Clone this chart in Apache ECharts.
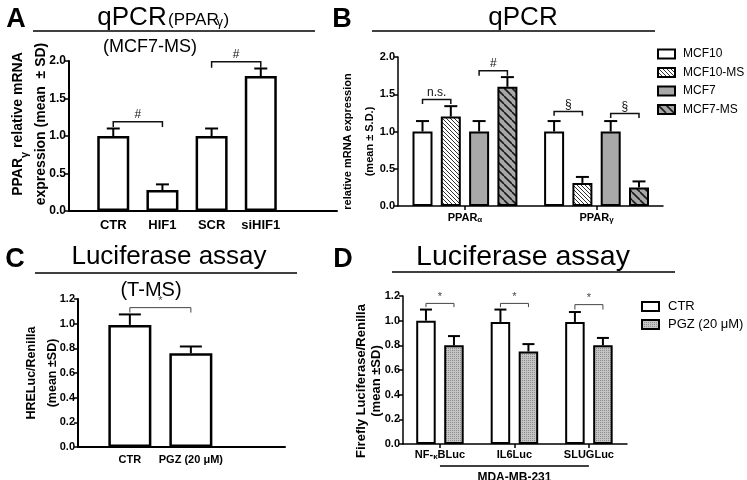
<!DOCTYPE html>
<html><head><meta charset="utf-8">
<script src="https://cdn.jsdelivr.net/npm/echarts@6/dist/echarts.min.js"></script>
<style>html,body{margin:0;padding:0;background:#fff}#c{width:747px;height:480px}</style>
</head><body><div id="c"></div>
<script>
// ---------------- data ----------------
// Panel A  qPCR (PPARγ), MCF7-MS
const catsA = ['CTR', 'HIF1', 'SCR', 'siHIF1'];
const meanA = [1.00, 0.28, 1.00, 1.80];
const sdA   = [0.10, 0.075, 0.10, 0.10];
const sigA  = [[0, 1, 1.19, 1.12, '#'], [2, 3, 1.99, 1.91, '#']]; // from, to, top, tick end, label
const ticksA = [0, 0.5, 1.0, 1.5, 2.0];

// Panel B  qPCR
const groupsB = ['PPARα', 'PPARγ'];
const seriesB = ['MCF10', 'MCF10-MS', 'MCF7', 'MCF7-MS'];
const meanB = [[1.00, 1.00], [1.20, 0.31], [1.00, 1.00], [1.60, 0.25]]; // [series][group]
const sdB   = [[0.14, 0.14], [0.14, 0.08], [0.14, 0.14], [0.13, 0.08]];
const sigB  = [[0, 0, 1, 1.43, 1.37, 'n.s.'], [0, 2, 3, 1.815, 1.75, '#'],
               [1, 0, 1, 1.27, 1.21, '§'], [1, 2, 3, 1.24, 1.18, '§']]; // group, s1, s2, top, tick end, label
const ticksB = [0, 0.5, 1.0, 1.5, 2.0];

// Panel C  Luciferase assay, T-MS
const catsC = ['CTR', 'PGZ (20 μM)'];
const meanC = [0.99, 0.76];
const sdC   = [0.085, 0.055];
const sigC  = [[0, 1, 1.13, 1.09, '*']];
const ticksC = [0, 0.2, 0.4, 0.6, 0.8, 1.0, 1.2];

// Panel D  Luciferase assay, MDA-MB-231
const groupsD = ['NF-κBLuc', 'IL6Luc', 'SLUGLuc'];
const seriesD = ['CTR', 'PGZ (20 μM)'];
const meanD = [[1.00, 0.99, 0.99], [0.80, 0.75, 0.80]];
const sdD   = [[0.09, 0.10, 0.08], [0.075, 0.06, 0.06]];
const sigD  = [[0, 1.14, 1.11, '*'], [1, 1.14, 1.11, '*'], [2, 1.13, 1.09, '*']]; // group, top, tick end, label
const groupLabelD = 'MDA-MB-231';
const ticksD = [0, 0.2, 0.4, 0.6, 0.8, 1.0, 1.2];

// ---------------- layout / style ----------------
const FONT = '"Liberation Sans", Arial, Helvetica, sans-serif';
const GB = 4.65;  // group spacing (bar slots) panel B
const GD = 2.66;  // group spacing (bar slots) panel D

function hatch(size, bg, fg, lw) {
  const c = document.createElement('canvas'); c.width = c.height = size;
  const g = c.getContext('2d'); g.fillStyle = bg; g.fillRect(0, 0, size, size);
  g.strokeStyle = fg; g.lineWidth = lw;
  for (let k = -1; k <= 1; k++) { g.beginPath(); g.moveTo(k * size, 0); g.lineTo(k * size + size, size); g.stroke(); }
  return { image: c, repeat: 'repeat' };
}
function stipple() {
  const c = document.createElement('canvas'); c.width = c.height = 2;
  const g = c.getContext('2d'); g.fillStyle = '#c4c4c4'; g.fillRect(0, 0, 2, 2);
  g.fillStyle = '#8e8e8e'; g.fillRect(0, 0, 1, 1);
  return { image: c, repeat: 'repeat' };
}
const fillsB = ['#ffffff', hatch(4, '#ffffff', '#333333', 1), '#a8a8a8', hatch(8, '#a8a8a8', '#1a1a1a', 1.6)];
const fillsD = ['#ffffff', stipple()];

function rich(str) {
  return str.split('\n').map(l => '{b|' + l.replace(/([αγκ])/g, '}{s|$1}{b|') + '}').join('\n');
}
function richStyles(size, sub, lh, bold) {
  const w = bold ? 'bold' : 'normal';
  return {
    b: { fontSize: size, fontWeight: w, color: '#000', fontFamily: FONT, lineHeight: lh },
    s: { fontSize: sub, fontWeight: w, color: '#000', fontFamily: FONT, lineHeight: Math.round(lh * 0.7), verticalAlign: 'bottom' }
  };
}

function xAxisDef(gi, min, max, centers, labels, o) {
  return {
    type: 'value', gridIndex: gi, min: min, max: max,
    axisLine: { show: true, onZero: false, lineStyle: { color: '#000', width: o.lw } },
    axisTick: { show: !!o.ticks, customValues: centers, length: 4, lineStyle: { color: '#000', width: 1.5 } },
    axisLabel: {
      show: true, customValues: centers, margin: o.margin,
      formatter: v => { const i = centers.findIndex(c => Math.abs(c - v) < 1e-6); return i < 0 ? '' : rich(labels[i]); },
      rich: richStyles(o.fs, o.fs - 3, o.fs + 2, true)
    },
    splitLine: { show: false }
  };
}
function yAxisDef(gi, ticks, o) {
  return {
    type: 'value', gridIndex: gi, min: ticks[0], max: ticks[ticks.length - 1], interval: ticks[1] - ticks[0],
    axisLine: { show: true, onZero: false, lineStyle: { color: '#000', width: o.lw } },
    axisTick: { show: true, length: 4, inside: false, lineStyle: { color: '#000', width: 1.5 } },
    axisLabel: { show: true, margin: 3, fontSize: o.fs, fontWeight: 'bold', color: '#000', fontFamily: FONT,
      formatter: v => v.toFixed(1) },
    splitLine: { show: false },
    name: rich(o.name), nameLocation: 'middle', nameGap: o.gap, nameRotate: 90, nameMoveOverlap: false,
    nameTextStyle: { rich: richStyles(o.nfs, o.nfs - 3, o.lh, true), padding: o.pad }
  };
}

function errSeries(ai, data, capW) {
  return {
    type: 'custom', xAxisIndex: ai, yAxisIndex: ai, z: 4, silent: true, data: data,
    encode: { x: 0, y: 1 },
    renderItem: (params, api) => {
      const x = api.value(0), m = api.value(1), sd = api.value(2);
      const p0 = api.coord([x, m]), p1 = api.coord([x, m + sd]);
      const st = { stroke: '#000', lineWidth: 2 };
      return { type: 'group', children: [
        { type: 'line', shape: { x1: p0[0], y1: p0[1], x2: p1[0], y2: p1[1] }, style: st },
        { type: 'line', shape: { x1: p1[0] - capW / 2, y1: p1[1], x2: p1[0] + capW / 2, y2: p1[1] }, style: st }
      ] };
    }
  };
}
function sigSeries(ai, data, labels, o) {
  return {
    type: 'custom', xAxisIndex: ai, yAxisIndex: ai, z: 5, silent: true, data: data,
    encode: { x: [0, 1], y: [2, 3] },
    renderItem: (params, api) => {
      const x1 = api.value(0), x2 = api.value(1), y = api.value(2), y2 = api.value(3);
      const a = api.coord([x1, y]), b = api.coord([x2, y]);
      const a2 = api.coord([x1, y2]), b2 = api.coord([x2, y2]);
      return { type: 'group', children: [
        { type: 'polyline', shape: { points: [a2, a, b, b2] }, style: { stroke: o.color, lineWidth: o.lw, fill: null } },
        { type: 'text', x: (a[0] + b[0]) / 2, y: a[1] - 1,
          style: { text: labels[params.dataIndex], font: o.fs + 'px ' + FONT, fill: o.color,
            align: 'center', textAlign: 'center', verticalAlign: 'bottom', textVerticalAlign: 'bottom' } }
      ] };
    }
  };
}

// ---------------- derived positions ----------------
const centersA = catsA.map((c, i) => i);
const centersB = groupsB.map((g, gi) => gi * GB + 1.5);
const centersC = catsC.map((c, i) => i);
const centersD = groupsD.map((g, gi) => gi * GD + 0.5);

const series = [];
// A
series.push({ type: 'bar', name: 'A', xAxisIndex: 0, yAxisIndex: 0, barWidth: 32,
  data: catsA.map((c, i) => [i, meanA[i]]), itemStyle: { color: '#fff', borderColor: '#000', borderWidth: 2.5 } });
series.push(errSeries(0, catsA.map((c, i) => [i, meanA[i], sdA[i]]), 13));
series.push(sigSeries(0, sigA.map(s => [s[0], s[1], s[2], s[3]]), sigA.map(s => s[4]), { color: '#111', lw: 1.5, fs: 12 }));
// B
seriesB.forEach((name, s) => {
  series.push({ type: 'bar', name: name, xAxisIndex: 1, yAxisIndex: 1, barWidth: 20, barGap: '-100%',
    data: groupsB.map((g, gi) => [gi * GB + s, meanB[s][gi]]),
    itemStyle: { color: fillsB[s], borderColor: '#000', borderWidth: 2 } });
});
series.push(errSeries(1, seriesB.flatMap((n, s) => groupsB.map((g, gi) => [gi * GB + s, meanB[s][gi], sdB[s][gi]])), 13));
series.push(sigSeries(1, sigB.map(s => [s[0] * GB + s[1], s[0] * GB + s[2], s[3], s[4]]), sigB.map(s => s[5]), { color: '#111', lw: 1.5, fs: 12 }));
// C
series.push({ type: 'bar', name: 'C', xAxisIndex: 2, yAxisIndex: 2, barWidth: 43,
  data: catsC.map((c, i) => [i, meanC[i]]), itemStyle: { color: '#fff', borderColor: '#000', borderWidth: 2.5 } });
series.push(errSeries(2, catsC.map((c, i) => [i, meanC[i], sdC[i]]), 22));
series.push(sigSeries(2, sigC.map(s => [s[0], s[1], s[2], s[3]]), sigC.map(s => s[4]), { color: '#444', lw: 1, fs: 11 }));
// D
seriesD.forEach((name, s) => {
  series.push({ type: 'bar', name: name, xAxisIndex: 3, yAxisIndex: 3, barWidth: 19.5, barGap: '-100%',
    data: groupsD.map((g, gi) => [gi * GD + s, meanD[s][gi]]),
    itemStyle: { color: fillsD[s], borderColor: '#000', borderWidth: 2 } });
});
series.push(errSeries(3, seriesD.flatMap((n, s) => groupsD.map((g, gi) => [gi * GD + s, meanD[s][gi], sdD[s][gi]])), 12));
series.push(sigSeries(3, sigD.map(s => [s[0] * GD, s[0] * GD + 1, s[1], s[2]]), sigD.map(s => s[3]), { color: '#444', lw: 1, fs: 11 }));
series.push({
  type: 'custom', xAxisIndex: 3, yAxisIndex: 3, silent: true, z: 5,
  data: [[centersD[0], centersD[centersD.length - 1]]], encode: { x: [0, 1] },
  renderItem: (params, api) => {
    const p0 = api.coord([api.value(0), 0]), p1 = api.coord([api.value(1), 0]);
    return { type: 'group', children: [
      { type: 'line', shape: { x1: p0[0], y1: p0[1] + 22, x2: p1[0], y2: p1[1] + 22 }, style: { stroke: '#000', lineWidth: 1.5 } },
      { type: 'text', x: (p0[0] + p1[0]) / 2, y: p0[1] + 34,
        style: { text: groupLabelD, font: 'bold 12px ' + FONT, fill: '#000', align: 'center', textAlign: 'center',
          verticalAlign: 'middle', textVerticalAlign: 'middle' } }
    ] };
  }
});

function T(text, x, y, font, align) {
  return { type: 'text', x: x, y: y, silent: true,
    style: { text: text, font: font, fill: '#000', align: align || 'center', textAlign: align || 'center',
      verticalAlign: 'middle', textVerticalAlign: 'middle' } };
}
function L(x1, y1, x2, y2) {
  return { type: 'line', silent: true, shape: { x1: x1, y1: y1, x2: x2, y2: y2 }, style: { stroke: '#000', lineWidth: 1.5 } };
}

const option = {
  animation: false,
  backgroundColor: '#fff',
  textStyle: { fontFamily: FONT },
  grid: [
    { left: 69, top: 61, width: 268, height: 150, containLabel: false, outerBoundsMode: 'none' },
    { left: 398, top: 57, width: 265, height: 149, containLabel: false, outerBoundsMode: 'none' },
    { left: 78, top: 299, width: 207, height: 148, containLabel: false, outerBoundsMode: 'none' },
    { left: 403, top: 296, width: 224, height: 148, containLabel: false, outerBoundsMode: 'none' }
  ],
  xAxis: [
    xAxisDef(0, -0.9, 4.55, centersA, catsA, { lw: 2, fs: 13, margin: 7, ticks: false }),
    xAxisDef(1, -0.866, 8.498, centersB, groupsB, { lw: 1.5, fs: 11, margin: 5, ticks: true }),
    xAxisDef(2, -0.85, 2.543, centersC, catsC, { lw: 2, fs: 11, margin: 6, ticks: false }),
    xAxisDef(3, -0.82, 7.18, centersD, groupsD, { lw: 1.5, fs: 11, margin: 4, ticks: true })
  ],
  yAxis: [
    yAxisDef(0, ticksA, { lw: 2, fs: 12, name: 'PPARγ relative mRNA\nexpression (mean  ± SD)', nfs: 14, lh: 23, gap: 16, pad: [0, 0, 0, 24] }),
    yAxisDef(1, ticksB, { lw: 1.5, fs: 11, name: 'relative mRNA expression\n(mean ± S.D.)', nfs: 11, lh: 22, gap: 17, pad: [0, 20, 0, 0] }),
    yAxisDef(2, ticksC, { lw: 2, fs: 11, name: 'HRELuc/Renilla\n(mean ±SD)', nfs: 12.5, lh: 21, gap: 15, pad: [0, 0, 0, 0] }),
    yAxisDef(3, ticksD, { lw: 1.5, fs: 11, name: 'Firefly Luciferase/Renilla\n(mean ±SD)', nfs: 13, lh: 15, gap: 19, pad: [0, 22, 0, 0] })
  ],
  legend: [
    { data: seriesB, orient: 'vertical', left: 657, top: 48, padding: 0, icon: 'rect', itemWidth: 17, itemHeight: 9, itemGap: 6.5,
      selectedMode: false, textStyle: { fontSize: 12, color: '#000', fontFamily: FONT, padding: [0, 0, 0, 3] },
      itemStyle: { borderColor: '#000', borderWidth: 2 } },
    { data: seriesD, orient: 'vertical', left: 641, top: 300, padding: 0, icon: 'rect', itemWidth: 17, itemHeight: 9, itemGap: 5,
      selectedMode: false, textStyle: { fontSize: 13, color: '#000', fontFamily: FONT, padding: [0, 0, 0, 4] },
      itemStyle: { borderColor: '#000', borderWidth: 2 } }
  ],
  series: series,
  graphic: [
    T('A', 16, 20, 'bold 27px ' + FONT),
    T('qPCR', 132, 18, '26px ' + FONT),
    T('(PPAR', 168, 20, '17px ' + FONT, 'left'),
    T('γ', 216.5, 22, '13px ' + FONT, 'left'),
    T(')', 223.5, 20, '17px ' + FONT, 'left'),
    L(33, 31, 315, 31),
    T('(MCF7-MS)', 150, 47, '18px ' + FONT),
    T('B', 342, 20, 'bold 27px ' + FONT),
    T('qPCR', 523, 18, '26px ' + FONT),
    L(372, 31, 655, 31),
    T('C', 15, 260, 'bold 27px ' + FONT),
    T('Luciferase assay', 169, 257, '26px ' + FONT),
    L(35, 273, 297, 273),
    T('(T-MS)', 151, 290, '20px ' + FONT),
    T('D', 343, 260, 'bold 27px ' + FONT),
    T('Luciferase assay', 523, 257, '28.5px ' + FONT),
    L(392, 272, 675, 272)
  ]
};
const chart = echarts.init(document.getElementById('c'), null, { renderer: 'canvas', width: 747, height: 480 });
chart.setOption(option);
</script></body></html>
